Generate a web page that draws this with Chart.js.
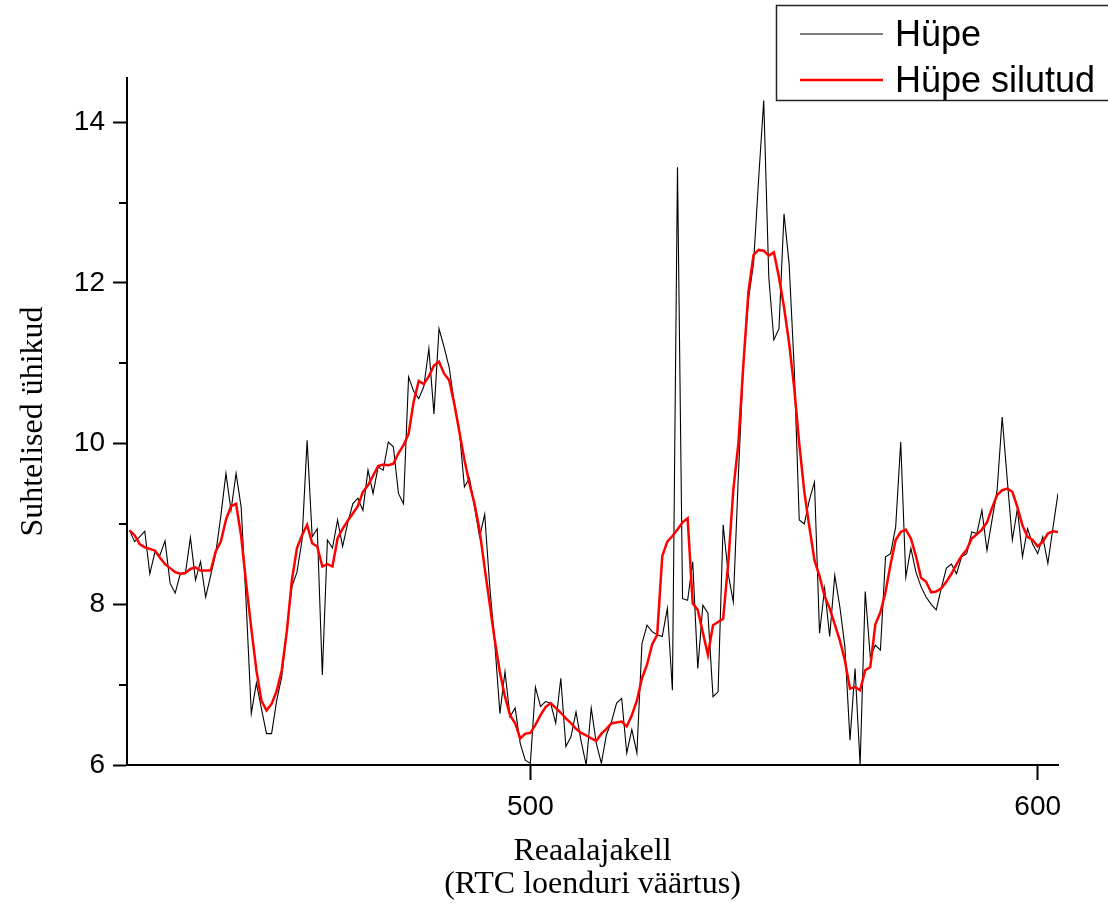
<!DOCTYPE html>
<html>
<head>
<meta charset="utf-8">
<script src="https://cdn.jsdelivr.net/npm/chart.js@4.4.0/dist/chart.umd.min.js"></script>
<style>
  html, body { margin: 0; padding: 0; background: #fff; }
  #wrap { width: 1108px; height: 903px; }
</style>
</head>
<body>
<div id="wrap"><canvas id="graafik" width="1108" height="903"></canvas></div>
<script>
// RTC loenduri algväärtus, iga mõõtmine on järgmine loenduri samm
const rtcStart = 421;

// Hüpe (toorandmed)
const hupe = [
  8.92, 8.78, 8.84, 8.91, 8.38, 8.65, 8.61, 8.79, 8.26, 8.14,
  8.38, 8.38, 8.83, 8.30, 8.53, 8.09, 8.36, 8.64, 9.10, 9.63,
  9.17, 9.63, 9.21, 8.00, 6.64, 7.02, 6.70, 6.39, 6.39, 6.80,
  7.10, 7.68, 8.22, 8.40, 8.80, 10.04, 8.84, 8.94, 7.12, 8.80,
  8.70, 9.05, 8.72, 9.01, 9.25, 9.32, 9.17, 9.67, 9.38, 9.71,
  9.67, 10.02, 9.96, 9.38, 9.25, 10.83, 10.65, 10.56, 10.71, 11.18,
  10.37, 11.43, 11.20, 10.95, 10.50, 10.17, 9.46, 9.57, 9.21, 8.84,
  9.12, 8.22, 7.51, 6.64, 7.16, 6.60, 6.71, 6.27, 6.06, 6.02,
  6.97, 6.73, 6.79, 6.77, 6.52, 7.08, 6.23, 6.35, 6.66, 6.30,
  6.00, 6.71, 6.27, 6.02, 6.38, 6.54, 6.77, 6.83, 6.15, 6.44,
  6.15, 7.51, 7.74, 7.66, 7.62, 7.60, 7.95, 6.93, 13.44, 8.07,
  8.05, 8.53, 7.20, 7.99, 7.89, 6.85, 6.91, 8.99, 8.38, 8.03,
  9.60, 11.00, 11.80, 12.25, 13.30, 14.27, 12.07, 11.29, 11.43, 12.86,
  12.24, 10.95, 9.05, 9.00, 9.30, 9.52, 7.64, 8.20, 7.60, 8.36,
  7.97, 7.47, 6.31, 7.20, 6.00, 8.16, 7.35, 7.49, 7.43, 8.59,
  8.63, 8.96, 10.02, 8.34, 8.70, 8.40, 8.22, 8.09, 8.00, 7.93,
  8.20, 8.45, 8.50, 8.38, 8.59, 8.63, 8.90, 8.88, 9.17, 8.67,
  9.05, 9.42, 10.33, 9.55, 8.80, 9.19, 8.59, 8.94, 8.75, 8.63,
  8.84, 8.51, 8.95, 9.38
];

// Hüpe silutud
const hupeSilutud = [
  8.92, 8.86, 8.75, 8.71, 8.69, 8.67, 8.58, 8.50, 8.45, 8.40,
  8.38, 8.39, 8.44, 8.46, 8.42, 8.42, 8.42, 8.66, 8.78, 9.05,
  9.22, 9.25, 8.85, 8.25, 7.70, 7.18, 6.80, 6.68, 6.76, 6.92,
  7.18, 7.66, 8.30, 8.70, 8.86, 8.99, 8.76, 8.72, 8.47, 8.50,
  8.47, 8.82, 8.94, 9.04, 9.13, 9.22, 9.40, 9.48, 9.60, 9.72,
  9.74, 9.73, 9.75, 9.88, 9.98, 10.12, 10.52, 10.78, 10.74, 10.84,
  10.97, 11.02, 10.87, 10.79, 10.50, 10.15, 9.80, 9.50, 9.25, 8.92,
  8.45, 8.00, 7.55, 7.15, 6.85, 6.62, 6.52, 6.33, 6.39, 6.40,
  6.50, 6.62, 6.72, 6.77, 6.71, 6.65, 6.58, 6.52, 6.45, 6.40,
  6.37, 6.33, 6.30, 6.39, 6.45, 6.52, 6.53, 6.54, 6.48, 6.62,
  6.80, 7.08, 7.25, 7.50, 7.62, 8.60, 8.78, 8.85, 8.93, 9.02,
  9.07, 8.01, 7.93, 7.65, 7.37, 7.74, 7.78, 7.82, 8.51, 9.42,
  10.00, 11.00, 11.90, 12.35, 12.41, 12.40, 12.34, 12.38, 12.07, 11.70,
  11.25, 10.70, 10.00, 9.40, 8.96, 8.55, 8.35, 8.10, 7.95, 7.75,
  7.55, 7.30, 6.95, 6.97, 6.93, 7.18, 7.22, 7.75, 7.90, 8.15,
  8.50, 8.80, 8.90, 8.93, 8.82, 8.60, 8.33, 8.28, 8.15, 8.16,
  8.20, 8.28, 8.38, 8.50, 8.60, 8.68, 8.82, 8.87, 8.93, 9.02,
  9.20, 9.36, 9.42, 9.44, 9.40, 9.21, 8.98, 8.84, 8.80, 8.72,
  8.78, 8.88, 8.91, 8.90
];

const xTicks = [500, 600];
const yTicks = [6, 8, 10, 12, 14];
const yMinor = [7, 9, 11, 13];

const rtc = hupe.map((_, i) => rtcStart + i);

// väikesed jaotised y-teljel
const minorTicks = {
  id: "minorTicks",
  afterDraw(chart) {
    const y = chart.scales.y;
    const ctx = chart.ctx;
    ctx.save();
    ctx.strokeStyle = "#000";
    ctx.lineWidth = 2;
    yMinor.forEach((v) => {
      const py = Math.round(y.getPixelForValue(v));
      ctx.beginPath();
      ctx.moveTo(y.right - 8, py);
      ctx.lineTo(y.right, py);
      ctx.stroke();
    });
    ctx.restore();
  },
};

// legend paremas ülanurgas
const legendBox = {
  id: "legendBox",
  afterDraw(chart) {
    const ctx = chart.ctx;
    ctx.save();
    ctx.fillStyle = "#fff";
    ctx.fillRect(776, 5, 340, 96);
    ctx.strokeStyle = "#222";
    ctx.lineWidth = 1.5;
    ctx.strokeRect(776.5, 5.5, 340, 95);
    ctx.font = '36px "Liberation Sans", Arial, sans-serif';
    ctx.textBaseline = "middle";
    const rows = [34, 80];
    [0, 1].forEach((k) => {
      const ds = chart.data.datasets[k];
      ctx.strokeStyle = ds.borderColor;
      ctx.lineWidth = k === 0 ? 1 : 2.5;
      ctx.beginPath();
      ctx.moveTo(800, rows[k]);
      ctx.lineTo(883, rows[k]);
      ctx.stroke();
      ctx.fillStyle = "#000";
      ctx.fillText(ds.label, 895, rows[k] + 2);
    });
    ctx.restore();
  },
};

new Chart(document.getElementById("graafik"), {
  type: "line",
  data: {
    datasets: [
      {
        label: "Hüpe",
        data: rtc.map((x, i) => ({ x: x, y: hupe[i] })),
        borderColor: "#000",
        borderWidth: 1.1,
        pointRadius: 0,
        tension: 0,
        order: 1,
      },
      {
        label: "Hüpe silutud",
        data: rtc.map((x, i) => ({ x: x, y: hupeSilutud[i] })),
        borderColor: "#ff0000",
        borderWidth: 2.5,
        pointRadius: 0,
        tension: 0,
        order: 0,
      },
    ],
  },
  options: {
    responsive: false,
    animation: false,
    devicePixelRatio: 1,
    layout: { padding: { top: 78, right: 50, left: 0, bottom: 0 } },
    plugins: {
      legend: { display: false },
      tooltip: { enabled: false },
    },
    scales: {
      x: {
        type: "linear",
        min: 420.5,
        max: 604,
        afterBuildTicks: (s) => {
          s.ticks = xTicks.map((v) => ({ value: v }));
        },
        afterFit: (s) => {
          s.height = 138;
        },
        grid: {
          drawOnChartArea: false,
          drawTicks: true,
          tickLength: 15,
          tickWidth: 2,
          tickColor: "#000",
        },
        border: { display: true, color: "#000", width: 2 },
        ticks: {
          color: "#000",
          padding: 10,
          maxRotation: 0,
          font: { family: "Liberation Sans", size: 28 },
        },
        title: {
          display: true,
          text: ["Reaalajakell", "(RTC loenduri väärtus)"],
          color: "#000",
          font: { family: "Liberation Serif", size: 32, lineHeight: 1.03 },
          padding: { top: 0, bottom: 2 },
        },
      },
      y: {
        type: "linear",
        min: 6,
        max: 14.55,
        afterBuildTicks: (s) => {
          s.ticks = yTicks.map((v) => ({ value: v }));
        },
        afterFit: (s) => {
          s.width = 127;
        },
        grid: {
          drawOnChartArea: false,
          drawTicks: true,
          tickLength: 14,
          tickWidth: 2,
          tickColor: "#000",
        },
        border: { display: true, color: "#000", width: 2 },
        ticks: {
          color: "#000",
          padding: 8,
          font: { family: "Liberation Sans", size: 28 },
        },
        title: {
          display: true,
          text: "Suhtelised ühikud",
          color: "#000",
          font: { family: "Liberation Serif", size: 32 },
          padding: { top: 14, bottom: 0 },
        },
      },
    },
  },
  plugins: [minorTicks, legendBox],
});
</script>
</body>
</html>
